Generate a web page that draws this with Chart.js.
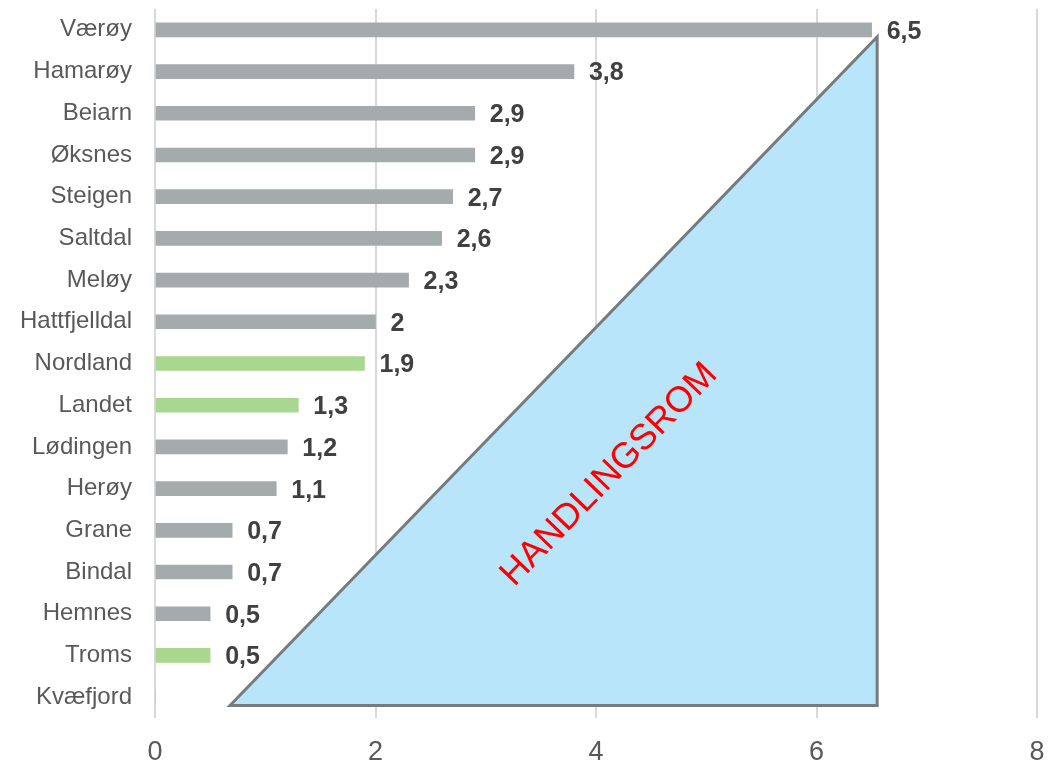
<!DOCTYPE html>
<html lang="no">
<head>
  <meta charset="UTF-8">
  <title>Handlingsrom</title>
  <script src="https://cdn.jsdelivr.net/npm/chart.js"></script>
  <style>
    body { margin: 0; background: #fff; }
    #wrap { width: 1059px; height: 769px; }
  </style>
</head>
<body>
  <div id="wrap"><canvas id="chart" width="1059" height="769"></canvas></div>
  <script>
    // data
    const kommuner = ['Værøy', 'Hamarøy', 'Beiarn', 'Øksnes', 'Steigen', 'Saltdal', 'Meløy', 'Hattfjelldal',
      'Nordland', 'Landet', 'Lødingen', 'Herøy', 'Grane', 'Bindal', 'Hemnes', 'Troms', 'Kvæfjord'];
    const verdier = [6.5, 3.8, 2.9, 2.9, 2.7, 2.6, 2.3, 2.0, 1.9, 1.3, 1.2, 1.1, 0.7, 0.7, 0.5, 0.5, 0];
    const referanse = ['Nordland', 'Landet', 'Troms'];
    const xTicks = [0, 2, 4, 6, 8];
    // triangle corners in data units (x value, category index)
    const trekantX = [0.68, 6.55, 6.55];
    const trekantY = [16.2, 0.17, 16.2];

    const grey = '#A5AAAD';
    const green = '#A9D78F';
    const font = "'Liberation Sans', Arial, sans-serif";

    // Triangle + text over the bars, value labels on top
    const trekantPlugin = {
      id: 'trekant',
      afterDatasetsDraw(chart) {
        const ctx = chart.ctx;
        const xs = chart.scales.x, ys = chart.scales.y;
        ctx.save();
        ctx.beginPath();
        for (let i = 0; i < trekantX.length; i++) {
          const px = xs.getPixelForValue(trekantX[i]);
          const py = ys.getPixelForValue(trekantY[i]);
          if (i === 0) ctx.moveTo(px, py); else ctx.lineTo(px, py);
        }
        ctx.closePath();
        ctx.fillStyle = '#B9E5FB';
        ctx.fill();
        ctx.lineWidth = 3;
        ctx.strokeStyle = '#777B7D';
        ctx.stroke();

        // HANDLINGSROM
        const cx = xs.getPixelForValue(4.12);
        const cy = ys.getPixelForValue(10.67);
        ctx.translate(cx, cy);
        ctx.rotate(-46 * Math.PI / 180);
        ctx.fillStyle = '#FF0000';
        ctx.font = '36px ' + font;
        ctx.textAlign = 'center';
        ctx.textBaseline = 'middle';
        ctx.fillText('HANDLINGSROM', 0, 0);
        ctx.restore();
      },
      afterDraw(chart) {
        const ctx = chart.ctx;
        const meta = chart.getDatasetMeta(0);
        ctx.save();
        ctx.font = 'bold 25px ' + font;
        ctx.fillStyle = '#404040';
        ctx.textAlign = 'left';
        ctx.textBaseline = 'middle';
        meta.data.forEach((bar, i) => {
          const v = verdier[i];
          if (!v) return;
          ctx.fillText(String(v).replace('.', ','), bar.x + 15, bar.y + 2);
        });
        ctx.restore();
      }
    };

    new Chart(document.getElementById('chart'), {
      type: 'bar',
      data: {
        labels: kommuner,
        datasets: [{
          data: verdier,
          backgroundColor: kommuner.map(k => referanse.includes(k) ? green : grey),
          barThickness: 14,
          borderWidth: 0
        }]
      },
      options: {
        indexAxis: 'y',
        responsive: false,
        animation: false,
        layout: { padding: { top: 9, right: 22, left: 0, bottom: 0 } },
        plugins: { legend: { display: false }, tooltip: { enabled: false } },
        scales: {
          x: {
            min: 0, max: 8,
            afterBuildTicks(axis) { axis.ticks = xTicks.map(v => ({ value: v })); },
            afterFit(axis) {
              axis.height = 51;
              axis.paddingLeft = 0;
              axis.paddingRight = 0;
            },
            grid: { color: '#D9D9D9', lineWidth: 2, drawTicks: false },
            border: { display: false },
            ticks: { color: '#595959', font: { family: font, size: 27 }, padding: 18 }
          },
          y: {
            afterFit(axis) {
              axis.width = 155;
              axis.paddingTop = 0;
              axis.paddingBottom = 0;
            },
            grid: { display: false },
            border: { display: false },
            ticks: { color: '#595959', font: { family: font, size: 24 }, padding: 15, autoSkip: false }
          }
        }
      },
      plugins: [trekantPlugin]
    });
  </script>
</body>
</html>
